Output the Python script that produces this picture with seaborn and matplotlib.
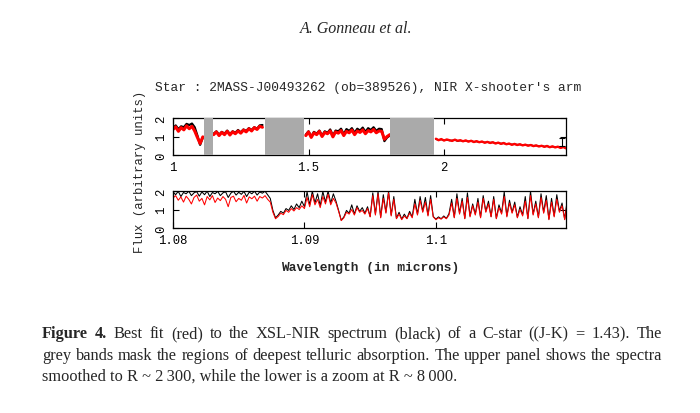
import numpy as np
import seaborn as sns
from matplotlib import pyplot as plt

# ---- data ----
# upper panel: smoothed spectrum, one list per unmasked segment
seg_ranges = [(1.00, 1.11), (1.15, 1.33), (1.49, 1.80), (1.97, 2.45)]
red_seg1 = [1.38, 1.52, 1.28, 1.48, 1.36, 1.58, 1.42, 1.55, 1.30, 0.95, 0.62, 0.98]
black_seg1 = [1.45, 1.60, 1.40, 1.55, 1.50, 1.68, 1.62, 1.70, 1.50, 1.05, 0.55, 0.95]
red_seg2 = [1.10, 1.25, 1.05, 1.22, 1.10, 1.28, 1.08, 1.25, 1.15, 1.30,
            1.18, 1.35, 1.25, 1.42, 1.30, 1.48, 1.38, 1.55, 1.50]
black_seg2 = [1.15, 1.28, 1.10, 1.25, 1.15, 1.32, 1.12, 1.28, 1.20, 1.35,
              1.22, 1.38, 1.30, 1.45, 1.35, 1.50, 1.42, 1.60, 1.62]
red_seg3 = [1.05, 1.25, 0.95, 1.20, 1.10, 1.28, 1.00, 1.22, 1.15, 1.30,
            0.98, 1.25, 1.18, 1.32, 1.05, 1.28, 1.20, 1.35, 1.10, 1.30,
            1.22, 1.36, 1.15, 1.32, 1.25, 1.38, 1.20, 1.30, 1.28, 0.85,
            1.00, 1.10]
black_seg3 = [1.10, 1.28, 1.00, 1.25, 1.15, 1.32, 1.05, 1.28, 1.20, 1.38,
              1.05, 1.32, 1.28, 1.42, 1.12, 1.40, 1.30, 1.45, 1.20, 1.42,
              1.32, 1.48, 1.25, 1.45, 1.35, 1.50, 1.30, 1.42, 1.40, 0.75,
              0.95, 1.05]
red_seg4 = [0.88, 0.80, 0.86, 0.78, 0.84, 0.80, 0.76, 0.83, 0.77, 0.80,
            0.74, 0.79, 0.72, 0.77, 0.70, 0.75, 0.69, 0.73, 0.66, 0.71,
            0.65, 0.69, 0.62, 0.67, 0.60, 0.65, 0.58, 0.62, 0.55, 0.60,
            0.54, 0.58, 0.52, 0.56, 0.50, 0.54, 0.48, 0.52, 0.46, 0.50,
            0.44, 0.49, 0.42, 0.47, 0.41, 0.45, 0.38, 0.43, 0.36]
black_seg4 = [0.85, 0.82, 0.84, 0.80, 0.82, 0.78, 0.79, 0.81, 0.75, 0.78,
              0.76, 0.77, 0.74, 0.75, 0.72, 0.73, 0.70, 0.72, 0.68, 0.69,
              0.67, 0.68, 0.64, 0.65, 0.62, 0.63, 0.60, 0.61, 0.57, 0.58,
              0.56, 0.57, 0.54, 0.55, 0.52, 0.53, 0.50, 0.51, 0.48, 0.49,
              0.46, 0.47, 0.44, 0.45, 0.43, 0.44, 0.41, 0.42, 0.40]
red_segs = [red_seg1, red_seg2, red_seg3, red_seg4]
black_segs = [black_seg1, black_seg2, black_seg3, black_seg4]
seg_widths = [2.2, 2.2, 2.2, 1.7]
telluric_masks = [(1.113, 1.149), (1.338, 1.485), (1.800, 1.963)]
err_lam, err_flux, err_size = 2.435, 0.69, 0.21

# lower panel: zoom at R ~ 8000, 1.08 .. 1.11 microns
zoom_range = (1.08, 1.11)
red_zoom = [
    1.62, 1.75, 1.50, 1.68, 1.40, 1.72, 1.55, 1.30, 1.65, 1.78,
    1.45, 1.60, 1.25, 1.70, 1.52, 1.75, 1.38, 1.62, 1.48, 1.70,
    1.55, 1.15, 1.65, 1.72, 1.42, 1.60, 1.50, 1.76, 1.35, 1.68,
    1.58, 1.72, 1.45, 1.70, 1.62, 1.75, 1.55, 1.40, 0.85, 0.50,
    0.62, 0.80, 0.72, 0.95, 0.85, 1.05, 0.92, 1.10, 1.00, 1.20,
    1.05, 1.65, 1.15, 1.80, 1.25, 1.55, 1.10, 1.70, 1.30, 1.82,
    1.25, 1.60, 1.35, 0.90, 0.40, 0.55, 0.85, 0.75, 1.00, 0.70,
    1.10, 0.85, 0.95, 0.75, 1.05, 0.60, 1.75, 0.70, 1.85, 0.55,
    1.60, 0.80, 1.90, 0.65, 1.55, 0.50, 0.75, 0.45, 0.65, 0.50,
    0.80, 0.55, 1.30, 0.70, 1.50, 0.85, 1.40, 0.65, 1.55, 0.60,
    0.45, 0.55, 0.48, 0.60, 0.50, 0.70, 1.35, 0.55, 1.60, 0.75,
    1.45, 0.50, 1.65, 0.60, 1.20, 0.70, 1.40, 0.55, 1.60, 0.85,
    1.30, 0.60, 1.55, 0.50, 1.10, 0.75, 1.70, 0.60, 1.35, 0.80,
    1.25, 0.55, 1.00, 0.65, 1.45, 0.50, 1.75, 0.70, 1.30, 0.55,
    1.65, 0.80, 1.50, 0.45, 1.40, 0.60, 1.55, 0.85, 1.20, 0.45,
    1.40,
]
black_zoom = [
    1.95, 1.80, 1.98, 1.70, 1.92, 1.85, 1.99, 1.75, 1.90, 1.97,
    1.72, 1.95, 1.80, 1.99, 1.70, 1.92, 1.85, 1.98, 1.75, 1.90,
    1.96, 1.65, 1.88, 1.99, 1.78, 1.93, 1.82, 1.98, 1.70, 1.94,
    1.85, 1.99, 1.78, 1.95, 1.88, 1.99, 1.80, 1.60, 0.95, 0.55,
    0.70, 0.90, 0.80, 1.05, 0.95, 1.20, 1.00, 1.30, 1.10, 1.45,
    1.15, 1.95, 1.25, 1.99, 1.35, 1.85, 1.20, 1.97, 1.40, 1.99,
    1.35, 1.85, 1.45, 0.95, 0.42, 0.60, 0.95, 0.80, 1.25, 0.75,
    1.20, 0.90, 1.10, 0.80, 1.15, 0.62, 1.90, 0.75, 1.97, 0.58,
    1.80, 0.85, 1.99, 0.70, 1.70, 0.52, 0.85, 0.48, 0.75, 0.52,
    0.90, 0.60, 1.55, 0.75, 1.70, 0.90, 1.65, 0.70, 1.75, 0.62,
    0.48, 0.60, 0.50, 0.65, 0.52, 0.78, 1.55, 0.58, 1.85, 0.80,
    1.60, 0.52, 1.90, 0.65, 1.30, 0.75, 1.60, 0.58, 1.75, 0.90,
    1.45, 0.62, 1.70, 0.52, 1.25, 0.80, 1.95, 0.65, 1.50, 0.85,
    1.40, 0.58, 1.15, 0.70, 1.70, 0.52, 1.99, 0.75, 1.45, 0.58,
    1.85, 0.85, 1.75, 0.48, 1.60, 0.65, 1.80, 0.90, 1.35, 0.48,
    1.55,
]

upper_ticks = [1, 1.5, 2]
upper_ticklabels = ["1", "1.5", "2"]
lower_ticks = [1.08, 1.09, 1.1]
lower_ticklabels = ["1.08", "1.09", "1.1"]
y_ticks = [0, 1, 2]

title = "Star : 2MASS-J00493262 (ob=389526), NIR X-shooter's arm"
header = "A. Gonneau et al."
caption_lines = [
    "Figure 4.  Best fit (red) to the XSL-NIR spectrum (black) of a C-star ((J-K) = 1.43).  The",
    "grey bands mask the regions of deepest telluric absorption. The upper panel shows the spectra",
    "smoothed to R ~ 2\u2009300, while the lower is a zoom at R ~ 8\u2009000.",
]

# ---- style ----
sns.set_theme(style="ticks")
plt.rcParams["font.family"] = ["Liberation Mono", "DejaVu Sans"]
plt.rcParams["axes.linewidth"] = 0.9
plt.rcParams["axes.edgecolor"] = "black"

W, H = 700, 414
fig = plt.figure(figsize=(7.0, 4.14), dpi=100)
fig.patch.set_facecolor("white")


def px_axes(left, top, right, bottom):
    return fig.add_axes([left / W, 1 - bottom / H, (right - left) / W, (bottom - top) / H])


def style_axes(ax, ticks, labels):
    ax.set_facecolor("white")
    ax.set_ylim(0, 2)
    ax.set_yticks(y_ticks)
    ax.set_yticklabels([str(v) for v in y_ticks], rotation=90, va="center")
    ax.set_xticks(ticks)
    ax.set_xticklabels(labels)
    ax.tick_params(direction="in", top=True, right=True, length=4, width=0.8,
                   labelsize=8.8, colors="black", pad=4)
    ax.set_xlabel("")
    ax.set_ylabel("")
    for s in ax.spines.values():
        s.set_visible(True)
        s.set_color("black")


# upper panel
ax1 = px_axes(173, 119, 566, 156)
for (lo, hi), blk, red, lw in zip(seg_ranges, black_segs, red_segs, seg_widths):
    lam = np.linspace(lo, hi, len(red))
    sns.lineplot(x=lam, y=blk, color="black", lw=lw - 0.6, estimator=None, sort=False, ax=ax1)
    sns.lineplot(x=lam, y=red, color="#ff0000", lw=lw, estimator=None, sort=False, ax=ax1)
for lo, hi in telluric_masks:
    ax1.axvspan(lo, hi, color="#aaaaaa", lw=0, zorder=5)
ax1.errorbar([err_lam], [err_flux], yerr=[err_size], color="black", lw=0.8,
             capsize=2, capthick=0.8, zorder=6)
ax1.set_xlim(1.0, 2.45)
style_axes(ax1, upper_ticks, upper_ticklabels)

# lower panel
ax2 = px_axes(173, 192, 566, 229)
lam_zoom = np.linspace(zoom_range[0], zoom_range[1], len(red_zoom))
sns.lineplot(x=lam_zoom, y=black_zoom, color="black", lw=0.75, estimator=None, sort=False, ax=ax2)
sns.lineplot(x=lam_zoom, y=red_zoom, color="#ff0000", lw=0.75, estimator=None, sort=False, ax=ax2)
ax2.set_xlim(1.08, 1.1099)
style_axes(ax2, lower_ticks, lower_ticklabels)

# figure texts
fig.text(155 / W, 1 - 88 / H, title, fontsize=9.3, va="center", ha="left")
fig.text(370 / W, 1 - 268 / H, "Wavelength (in microns)", fontsize=9.3,
         weight="bold", va="center", ha="center")
fig.text(140 / W, 1 - 172 / H, "Flux (arbitrary units)", fontsize=8.8,
         rotation=90, va="center", ha="center")
fig.text(356 / W, 1 - 33 / H, header, fontsize=11.5, style="italic",
         family="Liberation Serif", ha="center", va="baseline")

# caption: first two lines justified word by word, the last one left-aligned
renderer = fig.canvas.get_renderer()
cap_x0, cap_x1 = 42 / W, 662 / W
cap_base = [338, 360, 381]
cap_fs = 11.8
for n, (line, yb) in enumerate(zip(caption_lines, cap_base)):
    if n == len(caption_lines) - 1:
        fig.text(cap_x0, 1 - yb / H, line, fontsize=cap_fs,
                 family="Liberation Serif", va="baseline")
        continue
    words = line.split()
    texts = []
    for k, w in enumerate(words):
        bold = n == 0 and k < 2
        texts.append(fig.text(cap_x0, 1 - yb / H, w, fontsize=cap_fs,
                              family="Liberation Serif",
                              weight="bold" if bold else "normal", va="baseline"))
    widths = [t.get_window_extent(renderer).width / W for t in texts]
    gap = (cap_x1 - cap_x0 - sum(widths)) / (len(texts) - 1)
    x = cap_x0
    for t, w in zip(texts, widths):
        t.set_x(x)
        x += w + gap

fig.savefig("out.png", dpi=100, facecolor="white")
plt.close(fig)
